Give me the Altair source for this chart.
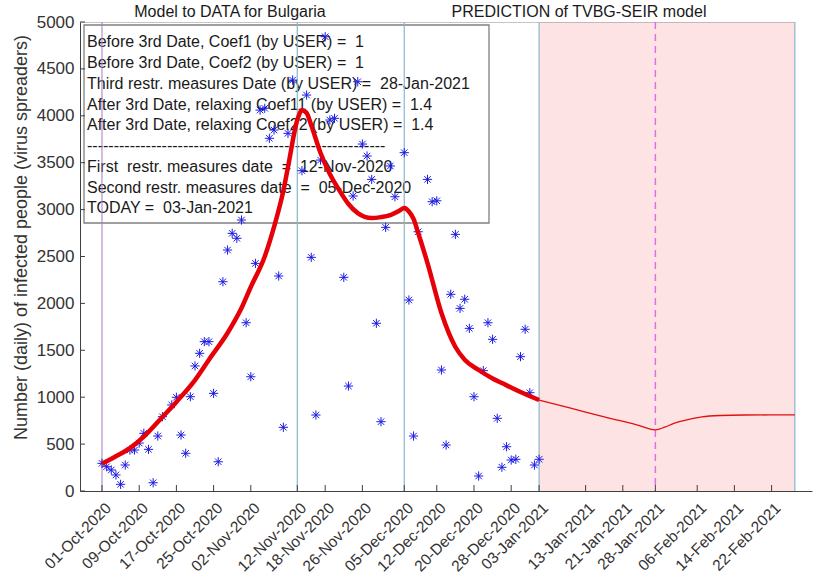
import altair as alt
import pandas as pd

FONT = "Liberation Sans"

# ---------------- data ----------------
obs_start = "2020-10-01"
# daily observed infected people, 01-Oct-2020 .. 03-Jan-2021 (None = no point visible)
obs_values = [295, 259, 224, 171, 71, 277, 437, 437, 511, 615,
              444, 88, 586, 792, None, 917, 999, 597, 402, 1005,
              1333, 1468, 1592, 1592, 1041, 312, 2231, 2569, 2747, 2694,
              2889, 1794, 1218, 2427, 4061, 4080, 3760, 3848, 2292, 679,
              3813, 4381, None, 3415, 4221, 2491, 810, 3528, 4843, 3955,
              3973, None, 2278, 1119, 3145, 4363, 3699, 3571, 3322, 1788,
              739, 2811, 3465, 3137, None, 3607, 2036, 586, 2764, None,
              3322, 3084, 3094, 1290, 490, 2097, 2736, 1947, 2044, 1734,
              1005, 160, 1283, 1794, 1617, 775, 253, 472, 330, 338,
              1432, 1724, 1048, 277, 338]

fit_dates = ["2020-10-01", "2020-10-04", "2020-10-07", "2020-10-10", "2020-10-14",
             "2020-10-17", "2020-10-21", "2020-10-24", "2020-10-28", "2020-10-31",
             "2020-11-02", "2020-11-05", "2020-11-07", "2020-11-09", "2020-11-10",
             "2020-11-12", "2020-11-13", "2020-11-14", "2020-11-15", "2020-11-17",
             "2020-11-19", "2020-11-21", "2020-11-23", "2020-11-25", "2020-11-28",
             "2020-11-30", "2020-12-02", "2020-12-04", "2020-12-05", "2020-12-06",
             "2020-12-07", "2020-12-08", "2020-12-10", "2020-12-13", "2020-12-16",
             "2020-12-18", "2020-12-21", "2020-12-24", "2020-12-26", "2020-12-30",
             "2021-01-03"]
fit_values = [290, 370, 458, 580, 789, 950, 1183, 1400, 1684, 1950,
              2175, 2500, 2815, 3200, 3454, 3955, 4060, 4030, 3900, 3603,
              3380, 3209, 3060, 2963, 2910, 2920, 2942, 2990, 3017, 2980,
              2900, 2750, 2430, 1897, 1535, 1400, 1290, 1200, 1151, 1055,
              970]

pred_dates = ["2021-01-03", "2021-01-10", "2021-01-17", "2021-01-24", "2021-01-28",
              "2021-01-30", "2021-02-01", "2021-02-04", "2021-02-07", "2021-02-11",
              "2021-02-16", "2021-02-27"]
pred_values = [970, 880, 790, 705, 652, 680, 722, 760, 790, 805, 810, 811]

tick_dates = ["2020-10-01", "2020-10-09", "2020-10-17", "2020-10-25", "2020-11-02",
              "2020-11-12", "2020-11-18", "2020-11-26", "2020-12-05", "2020-12-12",
              "2020-12-20", "2020-12-28", "2021-01-03", "2021-01-13", "2021-01-21",
              "2021-01-28", "2021-02-06", "2021-02-14", "2021-02-22"]
y_ticks = [0, 500, 1000, 1500, 2000, 2500, 3000, 3500, 4000, 4500, 5000]

model_start = "2020-10-01"
restriction_dates = ["2020-11-12", "2020-12-05"]
today_date = "2021-01-03"
third_date = "2021-01-28"
pred_end = "2021-02-27"

NB = "\u00a0"
box_lines = [
    f"Before 3rd Date, Coef1 (by USER) = {NB}1",
    f"Before 3rd Date, Coef2 (by USER) = {NB}1",
    f"Third restr. measures Date (by USER) = {NB}28-Jan-2021",
    f"After 3rd Date, relaxing Coef11 (by USER) = {NB}1.4",
    f"After 3rd Date, relaxing Coef22 (by USER) = {NB}1.4",
    "-" * 56,
    f"First {NB}restr. measures date {NB}= {NB}12-Nov-2020",
    f"Second restr. measures date {NB}= {NB}05-Dec-2020",
    f"TODAY = {NB}03-Jan-2021",
]
title_left = "Model to DATA for Bulgaria"
title_right = "PREDICTION of TVBG-SEIR model"
y_title = "Number (daily) of infected people (virus spreaders)"

# ---------------- frames ----------------
def ms(d):
    return int(pd.Timestamp(d, tz="UTC").value // 10**6)

obs_df = pd.DataFrame({
    "date": pd.date_range(obs_start, periods=len(obs_values), freq="D").strftime("%Y-%m-%d"),
    "value": obs_values,
}).dropna()
fit_df = pd.DataFrame({"date": fit_dates, "value": fit_values})
pred_df = pd.DataFrame({"date": pred_dates, "value": pred_values})
tick_df = pd.DataFrame({"date": tick_dates})
ytick_df = pd.DataFrame({"value": y_ticks})
region_df = pd.DataFrame({"date": [today_date], "end": [pred_end], "value": [0], "hi": [5000]})
blue_df = pd.DataFrame({"date": restriction_dates + [today_date, pred_end]})
purple_df = pd.DataFrame({"date": [model_start]})
dash_df = pd.DataFrame({"date": [third_date]})
top_df = pd.DataFrame({"date": ["2020-09-01"], "end": [pred_end], "value": [5000]})

W, H = 732, 469
xscale = alt.Scale(type="utc", domain=[ms("2020-09-26T06:30:00"), ms("2021-03-02T16:30:00")])
yscale = alt.Scale(domain=[0, 5000], nice=False)

x_axis = alt.Axis(
    values=[ms(d) for d in tick_dates],
    labelExpr="utcFormat(datum.value, '%d-%b-%Y')",
    labelAngle=-45, labelAlign="right", labelBaseline="middle",
    labelFontSize=15.5, labelColor="#333333", labelPadding=14, labelOffset=6,
    labelOverlap=False, ticks=False, grid=False, title=None,
    domainColor="#404040", labelFont=FONT,
)
y_axis = alt.Axis(
    values=y_ticks, format="d", ticks=False, grid=False, labelPadding=6,
    labelFontSize=17, labelColor="#333333", labelFont=FONT,
    domainColor="#404040",
    title=y_title, titleFontSize=18, titleFontWeight="normal", titleColor="#333333",
    titleFont=FONT, titleX=-59, titleY=215, titleAngle=-90,
    titleAlign="center", titleBaseline="middle",
)

def X(field="date"):
    return alt.X(f"{field}:T", scale=xscale, axis=x_axis)

def Y(field="value"):
    return alt.Y(f"{field}:Q", scale=yscale, axis=y_axis)

pink = alt.Chart(region_df).mark_rect(fill="#fde3e3").encode(
    x=X(), x2="end:T", y=Y(), y2="hi:Q")

top_line = alt.Chart(top_df).mark_rule(color="#8c8c8c", strokeWidth=1, clip=True).encode(
    x=X(), x2="end:T", y=Y())

box = alt.Chart(region_df).mark_rect(fill="white", stroke="#808080", strokeWidth=1.3).encode(
    x=alt.value(4), x2=alt.value(409), y=alt.value(3), y2=alt.value(201))

box_text = alt.Chart(region_df).mark_text(
    align="left", baseline="alphabetic", font=FONT, fontSize=16, lineHeight=20.75,
    color="#1a1a1a").encode(x=alt.value(7), y=alt.value(25.3), text=alt.value(box_lines))

blue_lines = alt.Chart(blue_df).mark_rule(color="#8ab6cc", strokeWidth=1.2).encode(x=X())
purple_line = alt.Chart(purple_df).mark_rule(color="#a77cc4", strokeWidth=1).encode(x=X())
dash_line = alt.Chart(dash_df).mark_rule(color="#e070e6", strokeWidth=1.5,
                                         strokeDash=[7, 5]).encode(x=X())

asterisk = "M-1,0L1,0M0,-1L0,1M-0.7,-0.7L0.7,0.7M-0.7,0.7L0.7,-0.7"
points = alt.Chart(obs_df).mark_point(
    shape=asterisk, filled=False, stroke="#1c1ce6", strokeWidth=1, size=85, opacity=1
).encode(x=X(), y=Y())

fit_line = alt.Chart(fit_df).mark_line(color="#e60008", strokeWidth=4.5,
                                       interpolate="monotone").encode(x=X(), y=Y())
pred_line = alt.Chart(pred_df).mark_line(color="#e01010", strokeWidth=1.3,
                                         interpolate="monotone").encode(x=X(), y=Y())

yticks = alt.Chart(ytick_df).mark_rule(color="#404040").encode(
    x=alt.value(0), x2=alt.value(5), y=Y())
xticks = alt.Chart(tick_df).mark_rule(color="#404040").encode(
    x=X(), y=alt.value(H), y2=alt.value(H - 6))

t1 = alt.Chart(region_df).mark_text(font=FONT, fontSize=16, color="#1a1a1a",
                                    align="center", baseline="alphabetic").encode(
    x=alt.value(150), y=alt.value(-5), text=alt.value(title_left))
t2 = alt.Chart(region_df).mark_text(font=FONT, fontSize=16, color="#1a1a1a",
                                    align="center", baseline="alphabetic").encode(
    x=alt.value(499), y=alt.value(-5), text=alt.value(title_right))

chart = alt.layer(
    pink, top_line, box, box_text, purple_line, blue_lines, dash_line,
    points, fit_line, pred_line, yticks, xticks, t1, t2
).properties(
    width=W, height=H,
    autosize=alt.AutoSizeParams(type="none"),
    padding={"left": 80, "top": 22, "right": 1, "bottom": 86},
    background="white",
).configure_view(stroke=None)

chart.save("out.html", embed_options={"renderer": "svg", "actions": False})
